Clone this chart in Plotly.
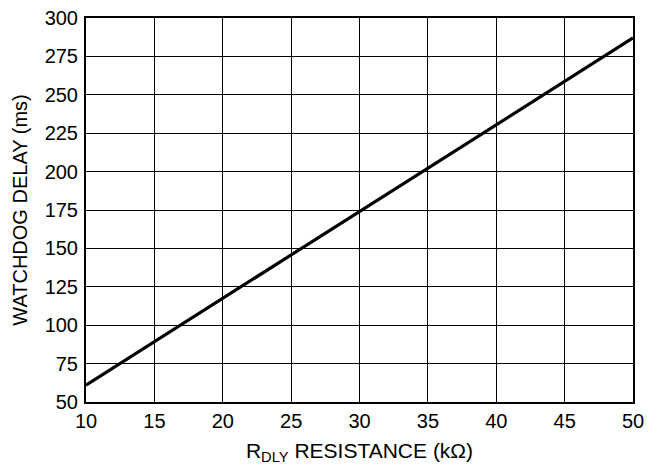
import plotly.graph_objects as go

resistance_kohm = [10, 50]
delay_ms = [61, 287]
x_ticks = [10, 15, 20, 25, 30, 35, 40, 45, 50]
y_ticks = [50, 75, 100, 125, 150, 175, 200, 225, 250, 275, 300]

fig = go.Figure()
fig.add_trace(go.Scatter(x=resistance_kohm, y=delay_ms, mode="lines",
                         line=dict(color="black", width=3.2), showlegend=False))

fam = "Liberation Sans, Arial, sans-serif"
tick_font = dict(family=fam, size=20, color="black")
xtitle_font = dict(family=fam, size=21, color="black")
ytitle_font = dict(family=fam, size=20, color="black")
fig.update_layout(
    width=658, height=466,
    margin=dict(l=86, r=25, t=18, b=64),
    paper_bgcolor="white", plot_bgcolor="white",
    font=tick_font,
    xaxis=dict(range=[10, 50], tickvals=x_ticks, ticktext=[str(v) for v in x_ticks],
               showgrid=True, gridcolor="black", gridwidth=1,
               showline=True, linecolor="black", linewidth=2, mirror=True,
               ticks="", zeroline=False, automargin=False, tickfont=tick_font,
               title=dict(text="R<sub>DLY</sub> RESISTANCE (kΩ)", standoff=12, font=xtitle_font)),
    yaxis=dict(range=[50, 300], tickvals=y_ticks, ticktext=[str(v) for v in y_ticks],
               showgrid=True, gridcolor="black", gridwidth=1,
               showline=True, linecolor="black", linewidth=2, mirror=True,
               ticks="", zeroline=False, ticklabelstandoff=2, automargin=False,
               tickfont=tick_font,
               title=dict(text="WATCHDOG DELAY (ms)", standoff=12, font=ytitle_font)),
)
fig.write_html("out.html", config={"displayModeBar": False},
               post_script="document.body.style.margin='0';")
